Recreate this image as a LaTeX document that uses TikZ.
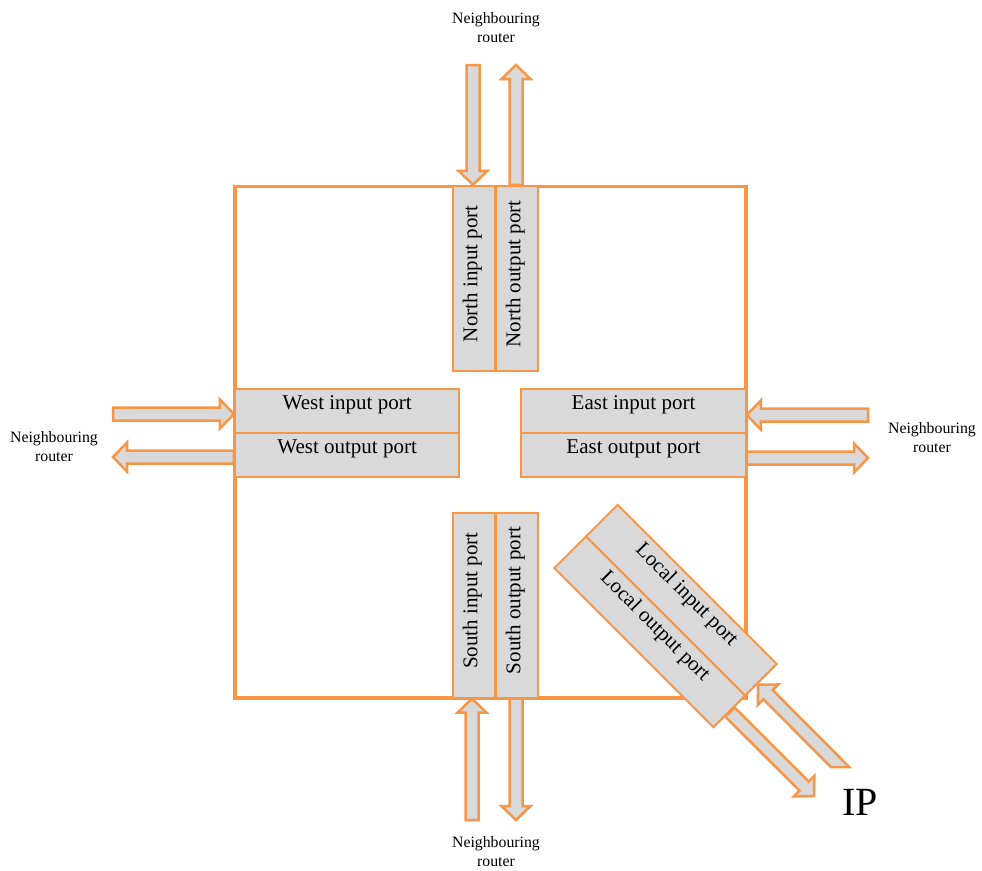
\documentclass[tikz,border=0pt]{standalone}
\usepackage{fontspec}
\setmainfont{Liberation Serif}
\usetikzlibrary{calc}

\definecolor{portorange}{RGB}{247,150,70}
\definecolor{portgray}{RGB}{217,217,217}

% Wide block arrow from #1 (tail) to #2 (tip)
\newcommand{\blockarrow}[2]{%
  \coordinate (ba-base) at ($(#2)!14pt!(#1)$);
  \draw[flowarrow]
    ($(#1)!6.5pt!90:(#2)$) -- ($(ba-base)!6.5pt!90:(#2)$)
    -- ($(ba-base)!14.5pt!90:(#2)$) -- (#2)
    -- ($(ba-base)!14.5pt!-90:(#2)$) -- ($(ba-base)!6.5pt!-90:(#2)$)
    -- ($(#1)!6.5pt!-90:(#2)$) -- cycle;}

% Same arrow for a 45-degree shaft whose tail is cut horizontally
\newcommand{\blockarrowcut}[2]{%
  \coordinate (ba-base) at ($(#2)!14pt!(#1)$);
  \draw[flowarrow]
    ($(#1)+(-9.2,0)$) -- ($(ba-base)!6.5pt!90:(#2)$)
    -- ($(ba-base)!14.5pt!90:(#2)$) -- (#2)
    -- ($(ba-base)!14.5pt!-90:(#2)$) -- ($(ba-base)!6.5pt!-90:(#2)$)
    -- ($(#1)+(9.2,0)$) -- cycle;}

\tikzset{
  portfont/.style={font=\fontsize{21}{25}\selectfont},
  hport/.style={draw=portorange, fill=portgray, line width=2pt, inner sep=0pt,
    minimum width=224.5pt, minimum height=44pt, text height=20pt, text depth=24pt,
    portfont},
  vport/.style={draw=portorange, fill=portgray, line width=2pt, inner sep=0pt,
    rotate=90, minimum width=185pt, minimum height=42.5pt,
    text height=14pt, text depth=7pt, portfont,
    execute at begin node={\hspace*{9pt}}},
  lport/.style={hport, rotate=-45, minimum width=225pt, minimum height=44.8pt},
  routerframe/.style={draw=portorange, line width=3.5pt, inner sep=0pt},
  flowarrow/.style={draw=portorange, fill=portgray, line width=2.5pt, line join=miter},
  routerlabel/.style={align=center, inner sep=0pt,
    font=\fontsize{15.8}{19.5}\selectfont},
}

\begin{document}
\begin{tikzpicture}[x=1pt, y=-1pt]
  \useasboundingbox (0,0) rectangle (982,870);

  % router body
  \node[routerframe, minimum width=511pt, minimum height=511.5pt] (router) at (490.5,442.25) {};

  % ports
  \node[vport] (nin)  at (473.75,278.25) {North input port};
  \node[vport] (nout) at (516.75,278.25) {North output port};
  \node[vport] (sin)  at (473.75,605.15) {South input port};
  \node[vport] (sout) at (516.75,605.15) {South output port};
  \node[hport] (win)  at (347.15,411.3) {West input port};
  \node[hport] (wout) at (347.15,455.3) {West output port};
  \node[hport] (ein)  at (633.5,411.3) {East input port};
  \node[hport] (eout) at (633.5,455.3) {East output port};
  \node[lport] (lin)  at (681.3,600.2) {Local input port};
  \node[lport] (lout) at (649.7,631.8) {Local output port};

  % neighbours and IP core
  \node[routerlabel, anchor=north] (nbn) at (496,12) {Neighbouring\\router};
  \node[routerlabel, anchor=north] (nbw) at (54,431) {Neighbouring\\router};
  \node[routerlabel, anchor=north] (nbe) at (932,422) {Neighbouring\\router};
  \node[routerlabel, anchor=north] (nbs) at (496,836) {Neighbouring\\router};
  \node[anchor=base west, inner sep=0pt, font=\fontsize{40}{48}\selectfont] (ip) at (842,815) {IP};

  % free ends of the links
  \coordinate (nin-src)  at (473,65);
  \coordinate (nout-dst) at (516,65);
  \coordinate (sin-src)  at (472,820);
  \coordinate (sout-dst) at (516,820);
  \coordinate (win-src)  at (113,414);
  \coordinate (wout-dst) at (113,457);
  \coordinate (ein-src)  at (868,415);
  \coordinate (eout-dst) at (868,458);
  \coordinate (lin-src)  at (840,767);
  \coordinate (lout-dst) at (814,796);

  % port-side ends
  \coordinate (nin-end)  at (nin.east -| nin-src);
  \coordinate (nout-end) at (nout.east -| nout-dst);
  \coordinate (sin-end)  at (sin.west -| sin-src);
  \coordinate (sout-end) at (sout.west -| sout-dst);
  \coordinate (win-end)  at (win.west |- win-src);
  \coordinate (wout-end) at (wout.west |- wout-dst);
  \coordinate (ein-end)  at (ein.east |- ein-src);
  \coordinate (eout-end) at (eout.east |- eout-dst);
  \coordinate (lin-end)  at ($(lin.east)+(-3.4,4.3)$);

  % links
  \blockarrow{nin-src}{nin-end}
  \blockarrow{nout-end}{nout-dst}
  \blockarrow{sin-src}{sin-end}
  \blockarrow{sout-end}{sout-dst}
  \blockarrow{win-src}{win-end}
  \blockarrow{wout-end}{wout-dst}
  \blockarrow{ein-src}{ein-end}
  \blockarrow{eout-end}{eout-dst}
  \blockarrowcut{lin-src}{lin-end}
  \blockarrow{lout.east}{lout-dst}
\end{tikzpicture}
\end{document}
